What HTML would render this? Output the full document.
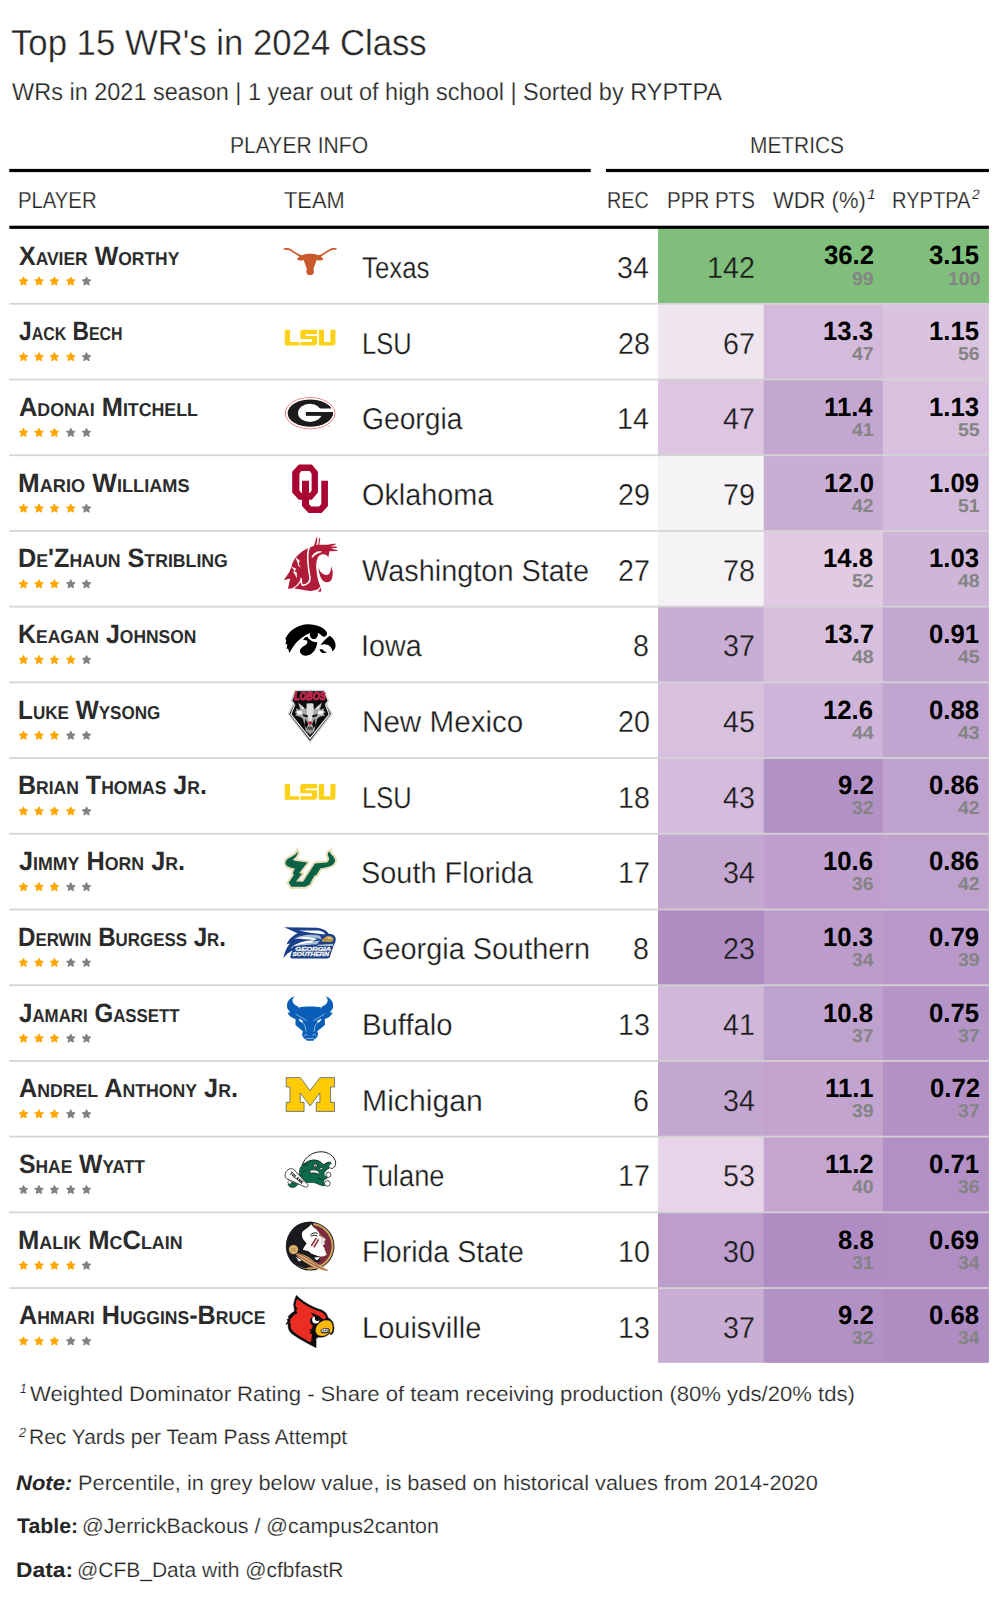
<!DOCTYPE html>
<html lang="en"><head><meta charset="utf-8"><title>Top 15 WR's in 2024 Class</title>
<style>html,body{margin:0;padding:0}
body{width:998px;height:1600px;position:relative;background:#fff;overflow:hidden;font-family:"Liberation Sans",sans-serif}
svg.bg{position:absolute;left:0;top:0}
.t{position:absolute;white-space:nowrap;line-height:1;font-family:"Liberation Sans",sans-serif;transform-origin:0 0;text-rendering:geometricPrecision}
.sc{font-size:70%}</style></head><body>
<svg class="bg" width="998" height="1600" viewBox="0 0 998 1600">
<rect x="658.0" y="229.00" width="106.0" height="75.11" fill="#7FBF7B"/>
<rect x="763.7" y="229.00" width="119.5" height="75.11" fill="#7FBF7B"/>
<rect x="882.9" y="229.00" width="106.0" height="75.11" fill="#7FBF7B"/>
<rect x="658.0" y="303.81" width="106.0" height="76.01" fill="#EFE5EF"/>
<rect x="763.7" y="303.81" width="119.5" height="76.01" fill="#D4BBDB"/>
<rect x="882.9" y="303.81" width="106.0" height="76.01" fill="#DAC3DF"/>
<rect x="658.0" y="379.52" width="106.0" height="76.01" fill="#DCC6E1"/>
<rect x="763.7" y="379.52" width="119.5" height="76.01" fill="#C4A7D1"/>
<rect x="882.9" y="379.52" width="106.0" height="76.01" fill="#D8C0DE"/>
<rect x="658.0" y="455.23" width="106.0" height="76.01" fill="#F5F3F5"/>
<rect x="763.7" y="455.23" width="119.5" height="76.01" fill="#C9AED4"/>
<rect x="882.9" y="455.23" width="106.0" height="76.01" fill="#D4BCDC"/>
<rect x="658.0" y="530.94" width="106.0" height="76.01" fill="#F5F2F5"/>
<rect x="763.7" y="530.94" width="119.5" height="76.01" fill="#E0CBE3"/>
<rect x="882.9" y="530.94" width="106.0" height="76.01" fill="#CFB5D8"/>
<rect x="658.0" y="606.65" width="106.0" height="76.01" fill="#C9AED4"/>
<rect x="763.7" y="606.65" width="119.5" height="76.01" fill="#D7BFDD"/>
<rect x="882.9" y="606.65" width="106.0" height="76.01" fill="#C4A7D1"/>
<rect x="658.0" y="682.36" width="106.0" height="76.01" fill="#D8C1DE"/>
<rect x="763.7" y="682.36" width="119.5" height="76.01" fill="#CEB4D8"/>
<rect x="882.9" y="682.36" width="106.0" height="76.01" fill="#C1A4CF"/>
<rect x="658.0" y="758.07" width="106.0" height="76.01" fill="#D5BCDC"/>
<rect x="763.7" y="758.07" width="119.5" height="76.01" fill="#B291C5"/>
<rect x="882.9" y="758.07" width="106.0" height="76.01" fill="#BFA1CE"/>
<rect x="658.0" y="833.78" width="106.0" height="76.01" fill="#C4A7D1"/>
<rect x="763.7" y="833.78" width="119.5" height="76.01" fill="#BE9FCD"/>
<rect x="882.9" y="833.78" width="106.0" height="76.01" fill="#BFA1CE"/>
<rect x="658.0" y="909.49" width="106.0" height="76.01" fill="#AF8DC3"/>
<rect x="763.7" y="909.49" width="119.5" height="76.01" fill="#BB9CCB"/>
<rect x="882.9" y="909.49" width="106.0" height="76.01" fill="#B999CA"/>
<rect x="658.0" y="985.20" width="106.0" height="76.01" fill="#D1B7D9"/>
<rect x="763.7" y="985.20" width="119.5" height="76.01" fill="#BFA1CE"/>
<rect x="882.9" y="985.20" width="106.0" height="76.01" fill="#B595C7"/>
<rect x="658.0" y="1060.91" width="106.0" height="76.01" fill="#C4A7D1"/>
<rect x="763.7" y="1060.91" width="119.5" height="76.01" fill="#C2A4CF"/>
<rect x="882.9" y="1060.91" width="106.0" height="76.01" fill="#B391C5"/>
<rect x="658.0" y="1136.62" width="106.0" height="76.01" fill="#E7D4E8"/>
<rect x="763.7" y="1136.62" width="119.5" height="76.01" fill="#C3A5D0"/>
<rect x="882.9" y="1136.62" width="106.0" height="76.01" fill="#B290C5"/>
<rect x="658.0" y="1212.33" width="106.0" height="76.01" fill="#BC9DCC"/>
<rect x="763.7" y="1212.33" width="119.5" height="76.01" fill="#AF8DC3"/>
<rect x="882.9" y="1212.33" width="106.0" height="76.01" fill="#B08EC4"/>
<rect x="658.0" y="1288.04" width="106.0" height="74.81" fill="#C9AED4"/>
<rect x="763.7" y="1288.04" width="119.5" height="74.81" fill="#B291C5"/>
<rect x="882.9" y="1288.04" width="106.0" height="74.81" fill="#AF8DC3"/>
<rect x="9.3" y="302.91" width="979.6" height="1.8" fill="#d3d3d3" fill-opacity="0.95"/>
<rect x="9.3" y="378.62" width="979.6" height="1.8" fill="#d3d3d3" fill-opacity="0.95"/>
<rect x="9.3" y="454.33" width="979.6" height="1.8" fill="#d3d3d3" fill-opacity="0.95"/>
<rect x="9.3" y="530.04" width="979.6" height="1.8" fill="#d3d3d3" fill-opacity="0.95"/>
<rect x="9.3" y="605.75" width="979.6" height="1.8" fill="#d3d3d3" fill-opacity="0.95"/>
<rect x="9.3" y="681.46" width="979.6" height="1.8" fill="#d3d3d3" fill-opacity="0.95"/>
<rect x="9.3" y="757.17" width="979.6" height="1.8" fill="#d3d3d3" fill-opacity="0.95"/>
<rect x="9.3" y="832.88" width="979.6" height="1.8" fill="#d3d3d3" fill-opacity="0.95"/>
<rect x="9.3" y="908.59" width="979.6" height="1.8" fill="#d3d3d3" fill-opacity="0.95"/>
<rect x="9.3" y="984.30" width="979.6" height="1.8" fill="#d3d3d3" fill-opacity="0.95"/>
<rect x="9.3" y="1060.01" width="979.6" height="1.8" fill="#d3d3d3" fill-opacity="0.95"/>
<rect x="9.3" y="1135.72" width="979.6" height="1.8" fill="#d3d3d3" fill-opacity="0.95"/>
<rect x="9.3" y="1211.43" width="979.6" height="1.8" fill="#d3d3d3" fill-opacity="0.95"/>
<rect x="9.3" y="1287.14" width="979.6" height="1.8" fill="#d3d3d3" fill-opacity="0.95"/>
<rect x="9.3" y="168.9" width="581.4" height="3.2" fill="#000"/>
<rect x="606" y="168.9" width="382.9" height="3.2" fill="#000"/>
<rect x="9.3" y="225.7" width="979.6" height="3.2" fill="#000"/>
<polygon points="23.50,276.85 24.82,279.58 27.83,279.99 25.64,282.10 26.17,285.08 23.50,283.65 20.83,285.08 21.36,282.10 19.17,279.99 22.18,279.58" fill="#ffa500" stroke="#ffa500" stroke-width="0.9" stroke-linejoin="round"/>
<polygon points="39.00,276.85 40.32,279.58 43.33,279.99 41.14,282.10 41.67,285.08 39.00,283.65 36.33,285.08 36.86,282.10 34.67,279.99 37.68,279.58" fill="#ffa500" stroke="#ffa500" stroke-width="0.9" stroke-linejoin="round"/>
<polygon points="54.40,276.85 55.72,279.58 58.73,279.99 56.54,282.10 57.07,285.08 54.40,283.65 51.73,285.08 52.26,282.10 50.07,279.99 53.08,279.58" fill="#ffa500" stroke="#ffa500" stroke-width="0.9" stroke-linejoin="round"/>
<polygon points="70.80,276.85 72.12,279.58 75.13,279.99 72.94,282.10 73.47,285.08 70.80,283.65 68.13,285.08 68.66,282.10 66.47,279.99 69.48,279.58" fill="#ffa500" stroke="#ffa500" stroke-width="0.9" stroke-linejoin="round"/>
<polygon points="86.50,276.85 87.82,279.58 90.83,279.99 88.64,282.10 89.17,285.08 86.50,283.65 83.83,285.08 84.36,282.10 82.17,279.99 85.18,279.58" fill="#808080" stroke="#808080" stroke-width="0.9" stroke-linejoin="round"/>
<polygon points="23.50,352.56 24.82,355.29 27.83,355.70 25.64,357.81 26.17,360.79 23.50,359.36 20.83,360.79 21.36,357.81 19.17,355.70 22.18,355.29" fill="#ffa500" stroke="#ffa500" stroke-width="0.9" stroke-linejoin="round"/>
<polygon points="39.00,352.56 40.32,355.29 43.33,355.70 41.14,357.81 41.67,360.79 39.00,359.36 36.33,360.79 36.86,357.81 34.67,355.70 37.68,355.29" fill="#ffa500" stroke="#ffa500" stroke-width="0.9" stroke-linejoin="round"/>
<polygon points="54.40,352.56 55.72,355.29 58.73,355.70 56.54,357.81 57.07,360.79 54.40,359.36 51.73,360.79 52.26,357.81 50.07,355.70 53.08,355.29" fill="#ffa500" stroke="#ffa500" stroke-width="0.9" stroke-linejoin="round"/>
<polygon points="70.80,352.56 72.12,355.29 75.13,355.70 72.94,357.81 73.47,360.79 70.80,359.36 68.13,360.79 68.66,357.81 66.47,355.70 69.48,355.29" fill="#ffa500" stroke="#ffa500" stroke-width="0.9" stroke-linejoin="round"/>
<polygon points="86.50,352.56 87.82,355.29 90.83,355.70 88.64,357.81 89.17,360.79 86.50,359.36 83.83,360.79 84.36,357.81 82.17,355.70 85.18,355.29" fill="#808080" stroke="#808080" stroke-width="0.9" stroke-linejoin="round"/>
<polygon points="23.50,428.27 24.82,431.00 27.83,431.41 25.64,433.52 26.17,436.50 23.50,435.07 20.83,436.50 21.36,433.52 19.17,431.41 22.18,431.00" fill="#ffa500" stroke="#ffa500" stroke-width="0.9" stroke-linejoin="round"/>
<polygon points="39.00,428.27 40.32,431.00 43.33,431.41 41.14,433.52 41.67,436.50 39.00,435.07 36.33,436.50 36.86,433.52 34.67,431.41 37.68,431.00" fill="#ffa500" stroke="#ffa500" stroke-width="0.9" stroke-linejoin="round"/>
<polygon points="54.40,428.27 55.72,431.00 58.73,431.41 56.54,433.52 57.07,436.50 54.40,435.07 51.73,436.50 52.26,433.52 50.07,431.41 53.08,431.00" fill="#ffa500" stroke="#ffa500" stroke-width="0.9" stroke-linejoin="round"/>
<polygon points="70.80,428.27 72.12,431.00 75.13,431.41 72.94,433.52 73.47,436.50 70.80,435.07 68.13,436.50 68.66,433.52 66.47,431.41 69.48,431.00" fill="#808080" stroke="#808080" stroke-width="0.9" stroke-linejoin="round"/>
<polygon points="86.50,428.27 87.82,431.00 90.83,431.41 88.64,433.52 89.17,436.50 86.50,435.07 83.83,436.50 84.36,433.52 82.17,431.41 85.18,431.00" fill="#808080" stroke="#808080" stroke-width="0.9" stroke-linejoin="round"/>
<polygon points="23.50,503.98 24.82,506.71 27.83,507.12 25.64,509.23 26.17,512.21 23.50,510.78 20.83,512.21 21.36,509.23 19.17,507.12 22.18,506.71" fill="#ffa500" stroke="#ffa500" stroke-width="0.9" stroke-linejoin="round"/>
<polygon points="39.00,503.98 40.32,506.71 43.33,507.12 41.14,509.23 41.67,512.21 39.00,510.78 36.33,512.21 36.86,509.23 34.67,507.12 37.68,506.71" fill="#ffa500" stroke="#ffa500" stroke-width="0.9" stroke-linejoin="round"/>
<polygon points="54.40,503.98 55.72,506.71 58.73,507.12 56.54,509.23 57.07,512.21 54.40,510.78 51.73,512.21 52.26,509.23 50.07,507.12 53.08,506.71" fill="#ffa500" stroke="#ffa500" stroke-width="0.9" stroke-linejoin="round"/>
<polygon points="70.80,503.98 72.12,506.71 75.13,507.12 72.94,509.23 73.47,512.21 70.80,510.78 68.13,512.21 68.66,509.23 66.47,507.12 69.48,506.71" fill="#ffa500" stroke="#ffa500" stroke-width="0.9" stroke-linejoin="round"/>
<polygon points="86.50,503.98 87.82,506.71 90.83,507.12 88.64,509.23 89.17,512.21 86.50,510.78 83.83,512.21 84.36,509.23 82.17,507.12 85.18,506.71" fill="#808080" stroke="#808080" stroke-width="0.9" stroke-linejoin="round"/>
<polygon points="23.50,579.69 24.82,582.42 27.83,582.83 25.64,584.94 26.17,587.92 23.50,586.49 20.83,587.92 21.36,584.94 19.17,582.83 22.18,582.42" fill="#ffa500" stroke="#ffa500" stroke-width="0.9" stroke-linejoin="round"/>
<polygon points="39.00,579.69 40.32,582.42 43.33,582.83 41.14,584.94 41.67,587.92 39.00,586.49 36.33,587.92 36.86,584.94 34.67,582.83 37.68,582.42" fill="#ffa500" stroke="#ffa500" stroke-width="0.9" stroke-linejoin="round"/>
<polygon points="54.40,579.69 55.72,582.42 58.73,582.83 56.54,584.94 57.07,587.92 54.40,586.49 51.73,587.92 52.26,584.94 50.07,582.83 53.08,582.42" fill="#ffa500" stroke="#ffa500" stroke-width="0.9" stroke-linejoin="round"/>
<polygon points="70.80,579.69 72.12,582.42 75.13,582.83 72.94,584.94 73.47,587.92 70.80,586.49 68.13,587.92 68.66,584.94 66.47,582.83 69.48,582.42" fill="#808080" stroke="#808080" stroke-width="0.9" stroke-linejoin="round"/>
<polygon points="86.50,579.69 87.82,582.42 90.83,582.83 88.64,584.94 89.17,587.92 86.50,586.49 83.83,587.92 84.36,584.94 82.17,582.83 85.18,582.42" fill="#808080" stroke="#808080" stroke-width="0.9" stroke-linejoin="round"/>
<polygon points="23.50,655.40 24.82,658.13 27.83,658.54 25.64,660.65 26.17,663.63 23.50,662.20 20.83,663.63 21.36,660.65 19.17,658.54 22.18,658.13" fill="#ffa500" stroke="#ffa500" stroke-width="0.9" stroke-linejoin="round"/>
<polygon points="39.00,655.40 40.32,658.13 43.33,658.54 41.14,660.65 41.67,663.63 39.00,662.20 36.33,663.63 36.86,660.65 34.67,658.54 37.68,658.13" fill="#ffa500" stroke="#ffa500" stroke-width="0.9" stroke-linejoin="round"/>
<polygon points="54.40,655.40 55.72,658.13 58.73,658.54 56.54,660.65 57.07,663.63 54.40,662.20 51.73,663.63 52.26,660.65 50.07,658.54 53.08,658.13" fill="#ffa500" stroke="#ffa500" stroke-width="0.9" stroke-linejoin="round"/>
<polygon points="70.80,655.40 72.12,658.13 75.13,658.54 72.94,660.65 73.47,663.63 70.80,662.20 68.13,663.63 68.66,660.65 66.47,658.54 69.48,658.13" fill="#ffa500" stroke="#ffa500" stroke-width="0.9" stroke-linejoin="round"/>
<polygon points="86.50,655.40 87.82,658.13 90.83,658.54 88.64,660.65 89.17,663.63 86.50,662.20 83.83,663.63 84.36,660.65 82.17,658.54 85.18,658.13" fill="#808080" stroke="#808080" stroke-width="0.9" stroke-linejoin="round"/>
<polygon points="23.50,731.11 24.82,733.84 27.83,734.25 25.64,736.36 26.17,739.34 23.50,737.91 20.83,739.34 21.36,736.36 19.17,734.25 22.18,733.84" fill="#ffa500" stroke="#ffa500" stroke-width="0.9" stroke-linejoin="round"/>
<polygon points="39.00,731.11 40.32,733.84 43.33,734.25 41.14,736.36 41.67,739.34 39.00,737.91 36.33,739.34 36.86,736.36 34.67,734.25 37.68,733.84" fill="#ffa500" stroke="#ffa500" stroke-width="0.9" stroke-linejoin="round"/>
<polygon points="54.40,731.11 55.72,733.84 58.73,734.25 56.54,736.36 57.07,739.34 54.40,737.91 51.73,739.34 52.26,736.36 50.07,734.25 53.08,733.84" fill="#ffa500" stroke="#ffa500" stroke-width="0.9" stroke-linejoin="round"/>
<polygon points="70.80,731.11 72.12,733.84 75.13,734.25 72.94,736.36 73.47,739.34 70.80,737.91 68.13,739.34 68.66,736.36 66.47,734.25 69.48,733.84" fill="#808080" stroke="#808080" stroke-width="0.9" stroke-linejoin="round"/>
<polygon points="86.50,731.11 87.82,733.84 90.83,734.25 88.64,736.36 89.17,739.34 86.50,737.91 83.83,739.34 84.36,736.36 82.17,734.25 85.18,733.84" fill="#808080" stroke="#808080" stroke-width="0.9" stroke-linejoin="round"/>
<polygon points="23.50,806.82 24.82,809.55 27.83,809.96 25.64,812.07 26.17,815.05 23.50,813.62 20.83,815.05 21.36,812.07 19.17,809.96 22.18,809.55" fill="#ffa500" stroke="#ffa500" stroke-width="0.9" stroke-linejoin="round"/>
<polygon points="39.00,806.82 40.32,809.55 43.33,809.96 41.14,812.07 41.67,815.05 39.00,813.62 36.33,815.05 36.86,812.07 34.67,809.96 37.68,809.55" fill="#ffa500" stroke="#ffa500" stroke-width="0.9" stroke-linejoin="round"/>
<polygon points="54.40,806.82 55.72,809.55 58.73,809.96 56.54,812.07 57.07,815.05 54.40,813.62 51.73,815.05 52.26,812.07 50.07,809.96 53.08,809.55" fill="#ffa500" stroke="#ffa500" stroke-width="0.9" stroke-linejoin="round"/>
<polygon points="70.80,806.82 72.12,809.55 75.13,809.96 72.94,812.07 73.47,815.05 70.80,813.62 68.13,815.05 68.66,812.07 66.47,809.96 69.48,809.55" fill="#ffa500" stroke="#ffa500" stroke-width="0.9" stroke-linejoin="round"/>
<polygon points="86.50,806.82 87.82,809.55 90.83,809.96 88.64,812.07 89.17,815.05 86.50,813.62 83.83,815.05 84.36,812.07 82.17,809.96 85.18,809.55" fill="#808080" stroke="#808080" stroke-width="0.9" stroke-linejoin="round"/>
<polygon points="23.50,882.53 24.82,885.26 27.83,885.67 25.64,887.78 26.17,890.76 23.50,889.33 20.83,890.76 21.36,887.78 19.17,885.67 22.18,885.26" fill="#ffa500" stroke="#ffa500" stroke-width="0.9" stroke-linejoin="round"/>
<polygon points="39.00,882.53 40.32,885.26 43.33,885.67 41.14,887.78 41.67,890.76 39.00,889.33 36.33,890.76 36.86,887.78 34.67,885.67 37.68,885.26" fill="#ffa500" stroke="#ffa500" stroke-width="0.9" stroke-linejoin="round"/>
<polygon points="54.40,882.53 55.72,885.26 58.73,885.67 56.54,887.78 57.07,890.76 54.40,889.33 51.73,890.76 52.26,887.78 50.07,885.67 53.08,885.26" fill="#ffa500" stroke="#ffa500" stroke-width="0.9" stroke-linejoin="round"/>
<polygon points="70.80,882.53 72.12,885.26 75.13,885.67 72.94,887.78 73.47,890.76 70.80,889.33 68.13,890.76 68.66,887.78 66.47,885.67 69.48,885.26" fill="#808080" stroke="#808080" stroke-width="0.9" stroke-linejoin="round"/>
<polygon points="86.50,882.53 87.82,885.26 90.83,885.67 88.64,887.78 89.17,890.76 86.50,889.33 83.83,890.76 84.36,887.78 82.17,885.67 85.18,885.26" fill="#808080" stroke="#808080" stroke-width="0.9" stroke-linejoin="round"/>
<polygon points="23.50,958.24 24.82,960.97 27.83,961.38 25.64,963.49 26.17,966.47 23.50,965.04 20.83,966.47 21.36,963.49 19.17,961.38 22.18,960.97" fill="#ffa500" stroke="#ffa500" stroke-width="0.9" stroke-linejoin="round"/>
<polygon points="39.00,958.24 40.32,960.97 43.33,961.38 41.14,963.49 41.67,966.47 39.00,965.04 36.33,966.47 36.86,963.49 34.67,961.38 37.68,960.97" fill="#ffa500" stroke="#ffa500" stroke-width="0.9" stroke-linejoin="round"/>
<polygon points="54.40,958.24 55.72,960.97 58.73,961.38 56.54,963.49 57.07,966.47 54.40,965.04 51.73,966.47 52.26,963.49 50.07,961.38 53.08,960.97" fill="#ffa500" stroke="#ffa500" stroke-width="0.9" stroke-linejoin="round"/>
<polygon points="70.80,958.24 72.12,960.97 75.13,961.38 72.94,963.49 73.47,966.47 70.80,965.04 68.13,966.47 68.66,963.49 66.47,961.38 69.48,960.97" fill="#808080" stroke="#808080" stroke-width="0.9" stroke-linejoin="round"/>
<polygon points="86.50,958.24 87.82,960.97 90.83,961.38 88.64,963.49 89.17,966.47 86.50,965.04 83.83,966.47 84.36,963.49 82.17,961.38 85.18,960.97" fill="#808080" stroke="#808080" stroke-width="0.9" stroke-linejoin="round"/>
<polygon points="23.50,1033.95 24.82,1036.68 27.83,1037.09 25.64,1039.20 26.17,1042.18 23.50,1040.75 20.83,1042.18 21.36,1039.20 19.17,1037.09 22.18,1036.68" fill="#ffa500" stroke="#ffa500" stroke-width="0.9" stroke-linejoin="round"/>
<polygon points="39.00,1033.95 40.32,1036.68 43.33,1037.09 41.14,1039.20 41.67,1042.18 39.00,1040.75 36.33,1042.18 36.86,1039.20 34.67,1037.09 37.68,1036.68" fill="#ffa500" stroke="#ffa500" stroke-width="0.9" stroke-linejoin="round"/>
<polygon points="54.40,1033.95 55.72,1036.68 58.73,1037.09 56.54,1039.20 57.07,1042.18 54.40,1040.75 51.73,1042.18 52.26,1039.20 50.07,1037.09 53.08,1036.68" fill="#ffa500" stroke="#ffa500" stroke-width="0.9" stroke-linejoin="round"/>
<polygon points="70.80,1033.95 72.12,1036.68 75.13,1037.09 72.94,1039.20 73.47,1042.18 70.80,1040.75 68.13,1042.18 68.66,1039.20 66.47,1037.09 69.48,1036.68" fill="#808080" stroke="#808080" stroke-width="0.9" stroke-linejoin="round"/>
<polygon points="86.50,1033.95 87.82,1036.68 90.83,1037.09 88.64,1039.20 89.17,1042.18 86.50,1040.75 83.83,1042.18 84.36,1039.20 82.17,1037.09 85.18,1036.68" fill="#808080" stroke="#808080" stroke-width="0.9" stroke-linejoin="round"/>
<polygon points="23.50,1109.66 24.82,1112.39 27.83,1112.80 25.64,1114.91 26.17,1117.89 23.50,1116.46 20.83,1117.89 21.36,1114.91 19.17,1112.80 22.18,1112.39" fill="#ffa500" stroke="#ffa500" stroke-width="0.9" stroke-linejoin="round"/>
<polygon points="39.00,1109.66 40.32,1112.39 43.33,1112.80 41.14,1114.91 41.67,1117.89 39.00,1116.46 36.33,1117.89 36.86,1114.91 34.67,1112.80 37.68,1112.39" fill="#ffa500" stroke="#ffa500" stroke-width="0.9" stroke-linejoin="round"/>
<polygon points="54.40,1109.66 55.72,1112.39 58.73,1112.80 56.54,1114.91 57.07,1117.89 54.40,1116.46 51.73,1117.89 52.26,1114.91 50.07,1112.80 53.08,1112.39" fill="#ffa500" stroke="#ffa500" stroke-width="0.9" stroke-linejoin="round"/>
<polygon points="70.80,1109.66 72.12,1112.39 75.13,1112.80 72.94,1114.91 73.47,1117.89 70.80,1116.46 68.13,1117.89 68.66,1114.91 66.47,1112.80 69.48,1112.39" fill="#808080" stroke="#808080" stroke-width="0.9" stroke-linejoin="round"/>
<polygon points="86.50,1109.66 87.82,1112.39 90.83,1112.80 88.64,1114.91 89.17,1117.89 86.50,1116.46 83.83,1117.89 84.36,1114.91 82.17,1112.80 85.18,1112.39" fill="#808080" stroke="#808080" stroke-width="0.9" stroke-linejoin="round"/>
<polygon points="23.50,1185.37 24.82,1188.10 27.83,1188.51 25.64,1190.62 26.17,1193.60 23.50,1192.17 20.83,1193.60 21.36,1190.62 19.17,1188.51 22.18,1188.10" fill="#808080" stroke="#808080" stroke-width="0.9" stroke-linejoin="round"/>
<polygon points="39.00,1185.37 40.32,1188.10 43.33,1188.51 41.14,1190.62 41.67,1193.60 39.00,1192.17 36.33,1193.60 36.86,1190.62 34.67,1188.51 37.68,1188.10" fill="#808080" stroke="#808080" stroke-width="0.9" stroke-linejoin="round"/>
<polygon points="54.40,1185.37 55.72,1188.10 58.73,1188.51 56.54,1190.62 57.07,1193.60 54.40,1192.17 51.73,1193.60 52.26,1190.62 50.07,1188.51 53.08,1188.10" fill="#808080" stroke="#808080" stroke-width="0.9" stroke-linejoin="round"/>
<polygon points="70.80,1185.37 72.12,1188.10 75.13,1188.51 72.94,1190.62 73.47,1193.60 70.80,1192.17 68.13,1193.60 68.66,1190.62 66.47,1188.51 69.48,1188.10" fill="#808080" stroke="#808080" stroke-width="0.9" stroke-linejoin="round"/>
<polygon points="86.50,1185.37 87.82,1188.10 90.83,1188.51 88.64,1190.62 89.17,1193.60 86.50,1192.17 83.83,1193.60 84.36,1190.62 82.17,1188.51 85.18,1188.10" fill="#808080" stroke="#808080" stroke-width="0.9" stroke-linejoin="round"/>
<polygon points="23.50,1261.08 24.82,1263.81 27.83,1264.22 25.64,1266.33 26.17,1269.31 23.50,1267.88 20.83,1269.31 21.36,1266.33 19.17,1264.22 22.18,1263.81" fill="#ffa500" stroke="#ffa500" stroke-width="0.9" stroke-linejoin="round"/>
<polygon points="39.00,1261.08 40.32,1263.81 43.33,1264.22 41.14,1266.33 41.67,1269.31 39.00,1267.88 36.33,1269.31 36.86,1266.33 34.67,1264.22 37.68,1263.81" fill="#ffa500" stroke="#ffa500" stroke-width="0.9" stroke-linejoin="round"/>
<polygon points="54.40,1261.08 55.72,1263.81 58.73,1264.22 56.54,1266.33 57.07,1269.31 54.40,1267.88 51.73,1269.31 52.26,1266.33 50.07,1264.22 53.08,1263.81" fill="#ffa500" stroke="#ffa500" stroke-width="0.9" stroke-linejoin="round"/>
<polygon points="70.80,1261.08 72.12,1263.81 75.13,1264.22 72.94,1266.33 73.47,1269.31 70.80,1267.88 68.13,1269.31 68.66,1266.33 66.47,1264.22 69.48,1263.81" fill="#ffa500" stroke="#ffa500" stroke-width="0.9" stroke-linejoin="round"/>
<polygon points="86.50,1261.08 87.82,1263.81 90.83,1264.22 88.64,1266.33 89.17,1269.31 86.50,1267.88 83.83,1269.31 84.36,1266.33 82.17,1264.22 85.18,1263.81" fill="#808080" stroke="#808080" stroke-width="0.9" stroke-linejoin="round"/>
<polygon points="23.50,1336.79 24.82,1339.52 27.83,1339.93 25.64,1342.04 26.17,1345.02 23.50,1343.59 20.83,1345.02 21.36,1342.04 19.17,1339.93 22.18,1339.52" fill="#ffa500" stroke="#ffa500" stroke-width="0.9" stroke-linejoin="round"/>
<polygon points="39.00,1336.79 40.32,1339.52 43.33,1339.93 41.14,1342.04 41.67,1345.02 39.00,1343.59 36.33,1345.02 36.86,1342.04 34.67,1339.93 37.68,1339.52" fill="#ffa500" stroke="#ffa500" stroke-width="0.9" stroke-linejoin="round"/>
<polygon points="54.40,1336.79 55.72,1339.52 58.73,1339.93 56.54,1342.04 57.07,1345.02 54.40,1343.59 51.73,1345.02 52.26,1342.04 50.07,1339.93 53.08,1339.52" fill="#ffa500" stroke="#ffa500" stroke-width="0.9" stroke-linejoin="round"/>
<polygon points="70.80,1336.79 72.12,1339.52 75.13,1339.93 72.94,1342.04 73.47,1345.02 70.80,1343.59 68.13,1345.02 68.66,1342.04 66.47,1339.93 69.48,1339.52" fill="#808080" stroke="#808080" stroke-width="0.9" stroke-linejoin="round"/>
<polygon points="86.50,1336.79 87.82,1339.52 90.83,1339.93 88.64,1342.04 89.17,1345.02 86.50,1343.59 83.83,1345.02 84.36,1342.04 82.17,1339.93 85.18,1339.52" fill="#808080" stroke="#808080" stroke-width="0.9" stroke-linejoin="round"/>
<g transform="translate(275.00,235.00) scale(0.070140)"><path fill="#c9592a" d="M118,205 C128,182 190,180 232,205 C282,235 330,272 378,288 C400,284 420,279 436,272 C470,264 530,264 566,272 C582,279 602,284 626,288 C672,270 722,235 772,205 C812,180 872,182 886,200 C872,216 822,206 792,222 C742,252 702,280 654,310 C674,320 687,335 684,348 C670,366 630,370 592,356 C582,400 562,440 548,488 C562,520 556,560 522,572 L482,572 C446,560 440,520 454,488 C440,440 420,400 410,356 C372,370 332,366 318,348 C316,335 330,320 350,310 C300,280 260,252 210,222 C180,206 130,216 118,205 Z"/><circle cx="713" cy="336" r="9" fill="#e7b9a5"/></g>
<g transform="translate(275.00,310.00) scale(0.070140)"><g fill="#fcd116"><path d="M140,280 H215 V455 H345 V505 H140 Z"/><path d="M400,280 H600 V345 H435 V372 H600 V455 Q600,505 552,505 H360 V455 H525 V415 H360 V320 Q360,280 400,280 Z"/><path d="M625,280 H700 V455 H790 V280 H862 V465 Q862,505 822,505 H625 Z"/></g></g>
<g transform="translate(275.00,385.00) scale(0.070140)"><ellipse cx="500" cy="402" rx="353" ry="222" fill="#fff" stroke="#e8242a" stroke-width="9"/><ellipse cx="503" cy="402" rx="322" ry="195" fill="#1c1a1b"/><ellipse cx="498" cy="398" rx="170" ry="130" fill="#fff"/><rect x="600" y="333" width="235" height="52" fill="#fff"/><path d="M440,385 H826 V440 H440 Z" fill="#1c1a1b"/><path d="M640,333 L800,333 L770,290 L600,290 Z" fill="#1c1a1b"/><ellipse cx="500" cy="402" rx="338" ry="209" fill="none" stroke="#fff" stroke-width="12"/><circle cx="768" cy="590" r="8" fill="#aaa"/></g>
<g transform="translate(275.00,458.00) scale(0.070140)"><g fill="#a90533"><path fill-rule="evenodd" d="M340,92 H525 L612,195 V492 L525,595 H340 L245,492 V195 Z M375,185 L348,225 V465 L375,500 H495 L522,465 V225 L495,185 Z"/><path d="M385,325 H485 V655 L515,690 H630 L660,655 V325 H755 V685 L665,785 H480 L385,685 Z"/></g><circle cx="342" cy="625" r="9" fill="#d48a9d"/></g>
<g transform="translate(275.00,536.00) scale(0.070140)"><g fill="#b01c38"><path d="M480,170 L556,140 L590,22 L606,22 L590,130 L614,125 L630,30 L646,33 L631,125 L745,125 L858,108 L866,121 L792,150 L880,150 L882,166 L792,181 L888,200 L888,213 L776,216 C771,250 766,280 760,302 C742,262 700,250 650,266 C600,290 580,380 590,470 C598,560 620,660 640,700 L654,722 L660,792 L600,796 L640,736 C600,780 520,792 450,776 L262,746 L185,752 L216,606 L125,630 L200,520 L236,440 L246,390 L292,310 C340,250 410,200 480,170 Z"/><path d="M620,450 C640,520 700,572 760,550 C790,530 800,480 800,430 C832,500 832,590 790,642 C740,682 680,652 655,600 C635,550 620,500 620,450 Z"/></g><g fill="none" stroke="#fff" stroke-linecap="round" stroke-linejoin="round"><path d="M486,172 C440,270 476,440 498,590 C506,660 470,692 395,704 C374,690 374,650 372,606" stroke-width="22"/><path d="M252,748 C300,724 344,684 370,626" stroke-width="17"/><path d="M606,796 L652,722" stroke-width="15"/></g><g fill="#fff"><path d="M290,300 L352,352 L338,398 L372,452 L330,420 L322,380 Z"/><path d="M232,432 L306,470 L276,500 L312,524 L310,606 L290,560 L262,520 L272,490 Z"/><path d="M526,296 C560,232 620,214 662,226 C620,240 570,258 534,306 Z" stroke="#fff" stroke-width="10" stroke-linejoin="round"/></g></g>
<g transform="translate(275.00,612.00) scale(0.070140)"><g fill="#000"><path d="M205,586 L186,520 L165,526 L176,456 L150,462 L161,396 L145,386 C200,260 330,180 470,175 C600,175 720,230 742,300 C746,340 710,362 685,350 C650,330 640,300 610,298 C616,340 600,382 555,386 C510,386 490,340 500,300 C420,330 330,400 270,480 C240,520 220,556 205,586 Z"/><path d="M430,360 L462,354 C490,400 530,432 602,430 C602,480 570,560 510,602 C460,632 390,632 360,580 C345,530 380,500 420,480 C460,460 472,430 455,405 L400,396 Z"/><path d="M780,340 C830,370 872,430 862,500 C852,540 830,556 815,556 C810,500 770,460 700,460 L648,472 C690,420 740,370 780,340 Z"/><path d="M634,528 L682,536 C690,560 720,572 744,572 C710,592 670,586 650,566 Z"/></g><circle cx="528" cy="622" r="8" fill="#bbb"/></g>
<g transform="translate(275.00,686.00) scale(0.070140)"><path d="M278,54 H706 L774,214 L746,258 L824,400 L500,812 L180,400 L254,258 L222,214 Z" fill="#d2d2d2"/><path d="M296,74 H690 L748,212 L716,250 L796,400 L500,782 L204,400 L282,250 L250,212 Z" fill="#0d0d0d"/><path d="M286,262 L226,404 L500,748 L774,404 L716,262" fill="none" stroke="#f2f2f2" stroke-width="17" stroke-linejoin="miter"/><path d="M300,250 L250,400 L500,712 L750,400 L700,250 Z" fill="#0d0d0d"/><g fill="#a6a8aa"><path d="M330,236 L440,330 L470,250 L530,250 L560,330 L670,236 L640,340 L705,322 L690,356 L725,372 L690,392 L715,420 L640,440 L600,470 L580,560 L560,640 L500,690 L440,640 L420,560 L400,470 L360,440 L285,420 L310,392 L275,372 L310,356 L295,322 L360,340 Z"/></g><path d="M450,250 L550,250 L545,400 L522,500 L478,500 L455,400 Z" fill="#dfe1e2"/><g fill="#f4f4f4"><path d="M345,250 L420,320 L390,330 Z"/><path d="M655,250 L580,320 L610,330 Z"/><path d="M300,360 L380,350 L390,400 L330,410 Z"/><path d="M700,360 L620,350 L610,400 L670,410 Z"/></g><g fill="#0d0d0d"><path d="M395,398 L472,420 L462,448 L405,430 Z"/><path d="M605,398 L528,420 L538,448 L595,430 Z"/><path d="M436,466 L418,560 L450,604 L472,540 Z"/><path d="M564,466 L582,560 L550,604 L528,540 Z"/></g><ellipse cx="500" cy="612" rx="40" ry="34" fill="#4a4a4a"/><ellipse cx="500" cy="645" rx="46" ry="26" fill="#9a9a9a"/><path d="M470,510 H530 L516,548 H484 Z" fill="#c8102e"/><text opacity="0.99" x="272" y="206" font-family="Liberation Sans, sans-serif" font-weight="700" font-style="italic" font-size="156" textLength="446" lengthAdjust="spacingAndGlyphs" fill="#cc2a52" stroke="#cc2a52" stroke-width="13" stroke-linejoin="round">LOBOS</text></g>
<g transform="translate(275.00,764.26) scale(0.070140)"><g fill="#fcd116"><path d="M140,280 H215 V455 H345 V505 H140 Z"/><path d="M400,280 H600 V345 H435 V372 H600 V455 Q600,505 552,505 H360 V455 H525 V415 H360 V320 Q360,280 400,280 Z"/><path d="M625,280 H700 V455 H790 V280 H862 V465 Q862,505 822,505 H625 Z"/></g></g>
<g transform="translate(275.00,840.00) scale(0.070140)"><path d="M296,185 L318,88 L352,190 Z M752,185 L830,88 L806,190 Z" fill="#e8ddb8"/><path id="usfp" d="M320,165 C330,200 310,240 260,275 C255,290 270,295 300,298 L462,320 L345,470 L385,480 L300,590 L400,595 L570,335 L740,320 C780,300 776,260 756,226 C746,200 760,176 776,165 C786,200 850,240 856,290 C856,350 790,382 700,396 L650,402 L590,500 L560,510 L512,600 L500,632 L430,666 L235,668 L195,610 L270,500 L255,470 L285,406 C230,400 165,386 150,336 C145,280 200,256 250,230 C290,210 310,190 320,165 Z" fill="#0b6246" stroke="#e8ddb8" stroke-width="58" stroke-linejoin="round" paint-order="stroke"/></g>
<g transform="translate(275.00,916.00) scale(0.070140)"><path d="M130,160 L600,168 C700,180 750,220 762,252 C830,250 876,290 866,345 C858,385 842,410 832,430 L782,586 C776,600 760,606 745,606 L240,606 C218,600 212,580 225,556 L250,490 C200,520 150,560 118,602 C135,520 165,450 215,390 L165,406 C190,340 250,282 322,246 Z" fill="#1c3f8a"/><path d="M335,205 L620,205 C680,215 710,235 716,262 L520,242 Z" fill="#fff"/><path d="M268,332 C350,270 500,250 645,282 L662,334 C560,300 400,300 268,332 Z" fill="#a9bfd3"/><path d="M300,322 C400,290 520,294 602,330 L560,346 C460,330 380,330 300,322 Z" fill="#fff"/><path d="M205,472 C300,400 420,370 560,360 L642,350 L602,402 L350,422 C300,432 250,450 205,472 Z" fill="#a9bfd3"/><path d="M215,462 C300,380 420,350 562,345 L520,382 C420,386 300,410 215,462 Z" fill="#fff"/><path d="M660,350 C680,320 720,300 742,285 C800,280 836,300 836,340 C836,366 800,376 760,372 L670,368 Z" fill="#b59549"/><path d="M740,300 C770,290 810,300 820,325 L760,330 Z" fill="#d9c48a"/><path d="M620,410 L832,394 L826,426 L590,426 Z" fill="#a9bfd3"/><path d="M262,432 H812 L770,596 H232 Z" fill="#1c3f8a"/><g opacity="0.99" font-family="Liberation Sans, sans-serif" font-weight="700" font-style="italic" fill="#f4f4ee" stroke="#f4f4ee" stroke-width="5"><text x="290" y="502" font-size="74" textLength="510" lengthAdjust="spacingAndGlyphs">GEORGIA</text><text x="250" y="576" font-size="74" textLength="520" lengthAdjust="spacingAndGlyphs">SOUTHERN</text></g></g>
<g transform="translate(275.00,990.00) scale(0.070140)"><path d="M285,90 C232,122 232,200 330,236 L345,250 C400,230 600,230 655,250 L670,236 C768,200 768,122 715,90 C800,110 850,190 820,270 L782,320 L822,320 C800,372 760,402 710,412 L712,500 L600,590 C622,620 616,682 560,702 L550,722 L450,722 L440,702 C384,682 378,620 400,590 L292,500 L292,412 C240,402 200,372 178,320 L218,320 L180,270 C150,190 200,110 285,90 Z" fill="#0a5eb7"/><g fill="#fff"><path d="M338,408 L402,442 L388,472 L350,442 Z"/><path d="M662,408 L598,442 L612,472 L650,442 Z"/></g><g fill="none" stroke="#cfe0f3" stroke-width="9" stroke-linecap="round"><path d="M300,346 L448,434"/><path d="M700,346 L552,434"/><path d="M398,470 C430,500 440,540 442,590"/><path d="M602,470 C570,500 560,540 558,590"/><path d="M420,655 C420,625 455,620 462,650"/><path d="M580,655 C580,625 545,620 538,650"/><path d="M448,690 H552"/><path d="M330,238 L345,260"/><path d="M670,238 L655,260"/></g></g>
<g transform="translate(275.00,1066.00) scale(0.070140)"><path d="M160,165 L362,165 L500,350 L640,165 L848,165 L848,300 L792,300 L792,518 L848,518 L848,648 L588,648 L588,518 L640,518 L640,385 L500,570 L360,385 L360,518 L415,518 L415,648 L160,648 L160,518 L212,518 L212,300 L160,300 Z" fill="#ffcb05" stroke="#2a4473" stroke-width="9" stroke-linejoin="miter"/></g>
<g transform="translate(275.00,1142.00) scale(0.070140)"><path d="M385,332 C430,200 560,130 680,140 C800,150 882,250 862,322 C850,372 800,392 780,362 C820,322 800,282 760,290 C720,300 700,330 680,320 C640,260 540,240 470,280 C430,300 400,320 385,332 Z" fill="#fff" stroke="#151515" stroke-width="14" stroke-linejoin="round"/><path d="M185,602 C200,652 260,662 300,632 C320,616 330,600 342,590 L250,572 Z" fill="#0b6a48" stroke="#14241d" stroke-width="9"/><path d="M470,280 C540,240 640,255 685,320 C700,330 730,310 760,290 C790,285 806,300 796,320 C770,330 760,350 770,380 C740,380 720,420 700,440 C690,470 720,500 750,510 C720,530 690,540 690,560 C710,590 722,610 700,626 C650,620 600,590 560,580 C500,570 440,590 400,560 C350,510 330,440 360,370 C380,330 420,300 470,280 Z" fill="#0b6a48" stroke="#0a2a1e" stroke-width="9"/><circle cx="762" cy="468" r="36" fill="#fff" stroke="#222" stroke-width="11"/><circle cx="746" cy="590" r="40" fill="#fff" stroke="#222" stroke-width="11"/><circle cx="806" cy="340" r="28" fill="#fff"/><path d="M150,440 C170,390 222,370 262,386 L470,610 C482,630 450,656 430,642 L160,520 C140,500 140,470 150,440 Z" fill="#fff" stroke="#3a3a3a" stroke-width="13" stroke-linejoin="round"/><g transform="translate(236,420) rotate(38) scale(0.9)" fill="#111"><path d="M0,0 h34 v12 h-10 v38 h-14 v-38 h-10 Z"/><path d="M42,2 h13 v34 h10 v-34 h13 v48 h-36 Z"/><path d="M86,4 h13 v36 h20 v12 h-33 Z"/><path d="M124,54 l14,-48 h14 l14,48 h-13 l-3,-12 h-10 l-3,12 Z"/><path d="M172,8 h12 l14,26 v-26 h12 v48 h-12 l-14,-26 v26 h-12 Z"/><path d="M218,10 h30 v11 h-17 v8 h14 v10 h-14 v8 h17 v11 h-30 Z"/></g><circle cx="210" cy="575" r="26" fill="#fff" stroke="#333" stroke-width="9"/><circle cx="576" cy="336" r="27" fill="#e9efe9" stroke="#111" stroke-width="12"/><circle cx="578" cy="340" r="10" fill="#111"/><ellipse cx="660" cy="378" rx="26" ry="14" fill="#dfe8e2" stroke="#111" stroke-width="9" transform="rotate(-20 660 378)"/><path d="M495,410 C520,392 580,392 610,410 C630,430 640,450 630,465 C600,440 540,440 500,445 Z" fill="#e9efe9" stroke="#111" stroke-width="10"/><path d="M380,440 C400,420 420,410 450,405 M400,330 C420,320 450,318 480,330 M610,510 C640,530 670,540 700,545 M385,470 L400,510" fill="none" stroke="#0a2a1e" stroke-width="9"/></g>
<g transform="translate(275.00,1216.00) scale(0.070140)"><circle cx="501" cy="430" r="347" fill="#1b1b1f"/><circle cx="501" cy="430" r="334" fill="#c9a55c"/><circle cx="501" cy="430" r="306" fill="#7b2b3d"/><path d="M545,86 C400,62 250,130 190,284 C140,404 160,564 250,668 C300,708 360,736 440,748 L650,640 L560,430 L545,160 Z" fill="#1b1b1f"/><path d="M517,118 L548,160 C600,190 625,230 632,250 L655,270 L724,335 L700,362 L708,400 L680,420 L700,450 L736,552 C700,582 640,582 603,572 L517,538 L474,504 L397,486 L406,452 L448,392 L406,340 C380,300 380,250 388,228 C420,190 480,170 517,118 Z" fill="#fff"/><path d="M406,340 C420,360 440,380 448,392 L406,452 L397,486 L474,504 L517,538 L603,572 L640,580 L600,640 L520,610 L440,560 L380,500 Z" fill="#1b1b1f"/><path d="M562,590 L640,582 L612,628 L578,622 Z" fill="#f2f2f2"/><path d="M585,318 L522,420 M620,340 L558,440" stroke="#8c2a3f" stroke-width="21" stroke-linecap="round"/><path d="M602,330 L540,430" stroke="#d2ae66" stroke-width="9" stroke-linecap="round"/><path d="M632,262 L690,300" stroke="#8c2a3f" stroke-width="26"/><path d="M634,262 L690,298" stroke="#d2ae66" stroke-width="10"/><path d="M505,270 C530,240 570,232 604,246 M520,288 C545,272 580,270 600,282" fill="none" stroke="#111" stroke-width="14" stroke-linecap="round"/><path d="M655,300 L724,335 L700,362 L708,400 L682,422 L650,400 Z" fill="#e4dfda"/><path d="M690,440 L736,552 L700,540 Z" fill="#e9e4df"/><circle cx="264" cy="478" r="66" fill="#d8b26c"/><path d="M226,468 h76 M232,492 h64" stroke="#b5793f" stroke-width="10"/><path d="M292,540 C380,520 480,580 560,650 C640,700 720,752 758,778 C680,784 580,752 480,692 C400,642 330,600 292,540 Z" fill="#d8b26c"/><path d="M300,548 C400,600 560,720 752,778 M330,540 C420,560 520,640 620,710" fill="none" stroke="#8c2a3f" stroke-width="11"/><path d="M296,576 L340,650 L380,636 Z" fill="#eee"/></g>
<g transform="translate(275.00,1290.00) scale(0.070140)"><path d="M305,75 C380,150 500,230 620,270 C700,290 742,330 756,395 C812,420 846,480 841,560 L831,610 L800,642 L780,616 C740,662 680,682 620,672 L586,692 L586,822 L545,802 C450,752 320,682 240,622 C190,582 180,520 190,480 L154,492 L185,440 L168,425 L205,395 L183,386 C210,350 250,320 280,300 L264,210 C275,150 290,110 305,75 Z" fill="#0d0d0d" stroke="#0d0d0d" stroke-width="6" stroke-linejoin="round"/><path d="M318,128 C390,192 500,256 610,296 C680,316 720,350 730,400 L690,420 L640,380 L545,332 L502,322 C540,350 542,362 546,380 C510,390 490,420 500,460 C510,490 530,500 540,512 L520,560 L478,570 L520,590 L488,612 L530,632 L520,700 L510,746 C420,700 320,640 260,590 C220,556 215,510 226,470 L200,466 L222,440 L215,420 L240,400 C250,370 290,340 322,332 L300,290 L322,270 L290,220 C295,180 305,150 318,128 Z" fill="#ec2d24"/><path d="M600,510 C640,440 720,416 780,440 C822,470 832,540 816,592 L800,620 L780,600 C740,650 680,666 630,650 C580,630 560,570 600,510 Z" fill="#fdb913"/><ellipse cx="716" cy="580" rx="66" ry="36" fill="#111" transform="rotate(-6 716 580)"/><ellipse cx="714" cy="578" rx="54" ry="24" fill="#fff" transform="rotate(-6 714 578)"/><path d="M660,582 L775,572 M690,556 V604 M716,554 V604 M742,556 V600" stroke="#111" stroke-width="6"/><circle cx="582" cy="424" r="52" fill="#fff"/><circle cx="606" cy="404" r="38" fill="#0d0d0d"/><path d="M520,330 L660,400 L650,430 L560,380 Z" fill="#0d0d0d"/></g>
</svg>
<div class="t" style="left:11.28px;top:25.10px;font-size:36.13px;font-weight:400;font-style:normal;color:#262626;transform:scaleX(0.9610);-webkit-text-stroke:0.34px #fff">Top 15 WR's in 2024 Class</div>
<div class="t" style="left:11.52px;top:80.90px;font-size:24.43px;font-weight:400;font-style:normal;color:#262626;transform:scaleX(0.9620);-webkit-text-stroke:0.23px #fff">WRs in 2021 season | 1 year out of high school | Sorted by RYPTPA</div>
<div class="t" style="left:230.40px;top:133.60px;font-size:23.15px;font-weight:400;font-style:normal;color:#262626;transform:scaleX(0.9125);-webkit-text-stroke:0.22px #fff">PLAYER INFO</div>
<div class="t" style="left:749.52px;top:133.60px;font-size:23.15px;font-weight:400;font-style:normal;color:#262626;transform:scaleX(0.9027);-webkit-text-stroke:0.22px #fff">METRICS</div>
<div class="t" style="left:18.47px;top:188.90px;font-size:23.15px;font-weight:400;font-style:normal;color:#262626;transform:scaleX(0.8765);-webkit-text-stroke:0.22px #fff">PLAYER</div>
<div class="t" style="left:283.63px;top:188.90px;font-size:23.15px;font-weight:400;font-style:normal;color:#262626;transform:scaleX(0.9435);-webkit-text-stroke:0.22px #fff">TEAM</div>
<div class="t" style="left:606.90px;top:188.90px;font-size:23.15px;font-weight:400;font-style:normal;color:#262626;transform:scaleX(0.8543);-webkit-text-stroke:0.22px #fff">REC</div>
<div class="t" style="left:666.55px;top:188.90px;font-size:23.15px;font-weight:400;font-style:normal;color:#262626;transform:scaleX(0.8873);-webkit-text-stroke:0.22px #fff">PPR PTS</div>
<div class="t" style="left:773.13px;top:188.90px;font-size:23.15px;font-weight:400;font-style:normal;color:#262626;transform:scaleX(0.9493);-webkit-text-stroke:0.22px #fff">WDR (%)</div>
<div class="t" style="left:891.88px;top:188.90px;font-size:23.15px;font-weight:400;font-style:normal;color:#262626;transform:scaleX(0.8680);-webkit-text-stroke:0.22px #fff">RYPTPA</div>
<div class="t" style="left:867.02px;top:187.60px;font-size:13.73px;font-weight:400;font-style:italic;color:#262626;transform:scaleX(1.1652);-webkit-text-stroke:0.13px #fff">1</div>
<div class="t" style="left:971.90px;top:187.60px;font-size:13.73px;font-weight:400;font-style:italic;color:#262626;transform:scaleX(1.0000);-webkit-text-stroke:0.13px #fff">2</div>
<div class="t" style="left:18.90px;top:242.50px;font-size:26.65px;font-weight:700;font-style:normal;color:#2b2b2b;transform:scaleX(0.9369)">X<span class="sc">AVIER</span> W<span class="sc">ORTHY</span></div>
<div class="t" style="left:362.16px;top:253.80px;font-size:30.14px;font-weight:400;font-style:normal;color:#1c1c1c;transform:scaleX(0.8560);-webkit-text-stroke:0.28px #fff">Texas</div>
<div class="t" style="left:617.27px;top:253.80px;font-size:30.14px;font-weight:400;font-style:normal;color:#1c1c1c;transform:scaleX(0.9516);-webkit-text-stroke:0.28px #fff">34</div>
<div class="t" style="left:707.21px;top:253.80px;font-size:30.14px;font-weight:400;font-style:normal;color:#1c1c1c;transform:scaleX(0.9516);-webkit-text-stroke:0.28px #7FBF7B">142</div>
<div class="t" style="left:823.57px;top:242.40px;font-size:26.42px;font-weight:700;font-style:normal;color:#000;transform:scaleX(0.9737)">36.2</div>
<div class="t" style="left:852.11px;top:269.50px;font-size:18.5px;font-weight:700;font-style:normal;color:#848484;transform:scaleX(1.0545)">99</div>
<div class="t" style="left:929.33px;top:242.40px;font-size:26.42px;font-weight:700;font-style:normal;color:#000;transform:scaleX(0.9737)">3.15</div>
<div class="t" style="left:947.56px;top:269.50px;font-size:18.5px;font-weight:700;font-style:normal;color:#848484;transform:scaleX(1.0545)">100</div>
<div class="t" style="left:18.96px;top:318.21px;font-size:26.65px;font-weight:700;font-style:normal;color:#2b2b2b;transform:scaleX(0.8545)">J<span class="sc">ACK</span> B<span class="sc">ECH</span></div>
<div class="t" style="left:362.20px;top:329.51px;font-size:30.14px;font-weight:400;font-style:normal;color:#1c1c1c;transform:scaleX(0.8461);-webkit-text-stroke:0.28px #fff">LSU</div>
<div class="t" style="left:617.51px;top:329.51px;font-size:30.14px;font-weight:400;font-style:normal;color:#1c1c1c;transform:scaleX(0.9516);-webkit-text-stroke:0.28px #fff">28</div>
<div class="t" style="left:723.15px;top:329.51px;font-size:30.14px;font-weight:400;font-style:normal;color:#1c1c1c;transform:scaleX(0.9516);-webkit-text-stroke:0.28px #EFE5EF">67</div>
<div class="t" style="left:823.33px;top:318.11px;font-size:26.42px;font-weight:700;font-style:normal;color:#000;transform:scaleX(0.9737)">13.3</div>
<div class="t" style="left:852.37px;top:345.21px;font-size:18.5px;font-weight:700;font-style:normal;color:#848484;transform:scaleX(1.0545)">47</div>
<div class="t" style="left:929.33px;top:318.11px;font-size:26.42px;font-weight:700;font-style:normal;color:#000;transform:scaleX(0.9737)">1.15</div>
<div class="t" style="left:958.11px;top:345.21px;font-size:18.5px;font-weight:700;font-style:normal;color:#848484;transform:scaleX(1.0545)">56</div>
<div class="t" style="left:18.65px;top:393.92px;font-size:26.65px;font-weight:700;font-style:normal;color:#2b2b2b;transform:scaleX(0.9538)">A<span class="sc">DONAI</span> M<span class="sc">ITCHELL</span></div>
<div class="t" style="left:361.69px;top:405.22px;font-size:30.14px;font-weight:400;font-style:normal;color:#1c1c1c;transform:scaleX(0.9371);-webkit-text-stroke:0.28px #fff">Georgia</div>
<div class="t" style="left:617.27px;top:405.22px;font-size:30.14px;font-weight:400;font-style:normal;color:#1c1c1c;transform:scaleX(0.9516);-webkit-text-stroke:0.28px #fff">14</div>
<div class="t" style="left:723.15px;top:405.22px;font-size:30.14px;font-weight:400;font-style:normal;color:#1c1c1c;transform:scaleX(0.9516);-webkit-text-stroke:0.28px #DCC6E1">47</div>
<div class="t" style="left:824.06px;top:393.82px;font-size:26.42px;font-weight:700;font-style:normal;color:#000;transform:scaleX(0.9737)">11.4</div>
<div class="t" style="left:852.11px;top:420.92px;font-size:18.5px;font-weight:700;font-style:normal;color:#848484;transform:scaleX(1.0545)">41</div>
<div class="t" style="left:929.33px;top:393.82px;font-size:26.42px;font-weight:700;font-style:normal;color:#000;transform:scaleX(0.9737)">1.13</div>
<div class="t" style="left:958.11px;top:420.92px;font-size:18.5px;font-weight:700;font-style:normal;color:#848484;transform:scaleX(1.0545)">55</div>
<div class="t" style="left:17.89px;top:469.63px;font-size:26.65px;font-weight:700;font-style:normal;color:#2b2b2b;transform:scaleX(0.9758)">M<span class="sc">ARIO</span> W<span class="sc">ILLIAMS</span></div>
<div class="t" style="left:361.66px;top:480.93px;font-size:30.14px;font-weight:400;font-style:normal;color:#1c1c1c;transform:scaleX(0.9569);-webkit-text-stroke:0.28px #fff">Oklahoma</div>
<div class="t" style="left:617.75px;top:480.93px;font-size:30.14px;font-weight:400;font-style:normal;color:#1c1c1c;transform:scaleX(0.9516);-webkit-text-stroke:0.28px #fff">29</div>
<div class="t" style="left:723.15px;top:480.93px;font-size:30.14px;font-weight:400;font-style:normal;color:#1c1c1c;transform:scaleX(0.9516);-webkit-text-stroke:0.28px #F5F3F5">79</div>
<div class="t" style="left:823.57px;top:469.53px;font-size:26.42px;font-weight:700;font-style:normal;color:#000;transform:scaleX(0.9737)">12.0</div>
<div class="t" style="left:852.11px;top:496.63px;font-size:18.5px;font-weight:700;font-style:normal;color:#848484;transform:scaleX(1.0545)">42</div>
<div class="t" style="left:929.33px;top:469.53px;font-size:26.42px;font-weight:700;font-style:normal;color:#000;transform:scaleX(0.9737)">1.09</div>
<div class="t" style="left:958.11px;top:496.63px;font-size:18.5px;font-weight:700;font-style:normal;color:#848484;transform:scaleX(1.0545)">51</div>
<div class="t" style="left:17.94px;top:545.34px;font-size:26.65px;font-weight:700;font-style:normal;color:#2b2b2b;transform:scaleX(0.9478)">D<span class="sc">E</span>'Z<span class="sc">HAUN</span> S<span class="sc">TRIBLING</span></div>
<div class="t" style="left:362.32px;top:556.64px;font-size:30.14px;font-weight:400;font-style:normal;color:#1c1c1c;transform:scaleX(0.9589);-webkit-text-stroke:0.28px #fff">Washington State</div>
<div class="t" style="left:617.75px;top:556.64px;font-size:30.14px;font-weight:400;font-style:normal;color:#1c1c1c;transform:scaleX(0.9516);-webkit-text-stroke:0.28px #fff">27</div>
<div class="t" style="left:722.91px;top:556.64px;font-size:30.14px;font-weight:400;font-style:normal;color:#1c1c1c;transform:scaleX(0.9516);-webkit-text-stroke:0.28px #F5F2F5">78</div>
<div class="t" style="left:823.33px;top:545.24px;font-size:26.42px;font-weight:700;font-style:normal;color:#000;transform:scaleX(0.9737)">14.8</div>
<div class="t" style="left:852.11px;top:572.34px;font-size:18.5px;font-weight:700;font-style:normal;color:#848484;transform:scaleX(1.0545)">52</div>
<div class="t" style="left:929.33px;top:545.24px;font-size:26.42px;font-weight:700;font-style:normal;color:#000;transform:scaleX(0.9737)">1.03</div>
<div class="t" style="left:958.11px;top:572.34px;font-size:18.5px;font-weight:700;font-style:normal;color:#848484;transform:scaleX(1.0545)">48</div>
<div class="t" style="left:17.96px;top:621.05px;font-size:26.65px;font-weight:700;font-style:normal;color:#2b2b2b;transform:scaleX(0.9358)">K<span class="sc">EAGAN</span> J<span class="sc">OHNSON</span></div>
<div class="t" style="left:361.47px;top:632.35px;font-size:30.14px;font-weight:400;font-style:normal;color:#1c1c1c;transform:scaleX(0.9547);-webkit-text-stroke:0.28px #fff">Iowa</div>
<div class="t" style="left:633.45px;top:632.35px;font-size:30.14px;font-weight:400;font-style:normal;color:#1c1c1c;transform:scaleX(0.9516);-webkit-text-stroke:0.28px #fff">8</div>
<div class="t" style="left:723.15px;top:632.35px;font-size:30.14px;font-weight:400;font-style:normal;color:#1c1c1c;transform:scaleX(0.9516);-webkit-text-stroke:0.28px #C9AED4">37</div>
<div class="t" style="left:823.57px;top:620.95px;font-size:26.42px;font-weight:700;font-style:normal;color:#000;transform:scaleX(0.9737)">13.7</div>
<div class="t" style="left:852.11px;top:648.05px;font-size:18.5px;font-weight:700;font-style:normal;color:#848484;transform:scaleX(1.0545)">48</div>
<div class="t" style="left:929.08px;top:620.95px;font-size:26.42px;font-weight:700;font-style:normal;color:#000;transform:scaleX(0.9737)">0.91</div>
<div class="t" style="left:958.11px;top:648.05px;font-size:18.5px;font-weight:700;font-style:normal;color:#848484;transform:scaleX(1.0545)">45</div>
<div class="t" style="left:18.00px;top:696.76px;font-size:26.65px;font-weight:700;font-style:normal;color:#2b2b2b;transform:scaleX(0.9146)">L<span class="sc">UKE</span> W<span class="sc">YSONG</span></div>
<div class="t" style="left:361.89px;top:708.06px;font-size:30.14px;font-weight:400;font-style:normal;color:#1c1c1c;transform:scaleX(0.9832);-webkit-text-stroke:0.28px #fff">New Mexico</div>
<div class="t" style="left:617.51px;top:708.06px;font-size:30.14px;font-weight:400;font-style:normal;color:#1c1c1c;transform:scaleX(0.9516);-webkit-text-stroke:0.28px #fff">20</div>
<div class="t" style="left:722.91px;top:708.06px;font-size:30.14px;font-weight:400;font-style:normal;color:#1c1c1c;transform:scaleX(0.9516);-webkit-text-stroke:0.28px #D8C1DE">45</div>
<div class="t" style="left:823.33px;top:696.66px;font-size:26.42px;font-weight:700;font-style:normal;color:#000;transform:scaleX(0.9737)">12.6</div>
<div class="t" style="left:851.58px;top:723.76px;font-size:18.5px;font-weight:700;font-style:normal;color:#848484;transform:scaleX(1.0545)">44</div>
<div class="t" style="left:929.33px;top:696.66px;font-size:26.42px;font-weight:700;font-style:normal;color:#000;transform:scaleX(0.9737)">0.88</div>
<div class="t" style="left:958.11px;top:723.76px;font-size:18.5px;font-weight:700;font-style:normal;color:#848484;transform:scaleX(1.0545)">43</div>
<div class="t" style="left:17.96px;top:772.47px;font-size:26.65px;font-weight:700;font-style:normal;color:#2b2b2b;transform:scaleX(0.9397)">B<span class="sc">RIAN</span> T<span class="sc">HOMAS</span> J<span class="sc">R</span>.</div>
<div class="t" style="left:362.20px;top:783.77px;font-size:30.14px;font-weight:400;font-style:normal;color:#1c1c1c;transform:scaleX(0.8461);-webkit-text-stroke:0.28px #fff">LSU</div>
<div class="t" style="left:617.51px;top:783.77px;font-size:30.14px;font-weight:400;font-style:normal;color:#1c1c1c;transform:scaleX(0.9516);-webkit-text-stroke:0.28px #fff">18</div>
<div class="t" style="left:722.91px;top:783.77px;font-size:30.14px;font-weight:400;font-style:normal;color:#1c1c1c;transform:scaleX(0.9516);-webkit-text-stroke:0.28px #D5BCDC">43</div>
<div class="t" style="left:837.69px;top:772.37px;font-size:26.42px;font-weight:700;font-style:normal;color:#000;transform:scaleX(0.9737)">9.2</div>
<div class="t" style="left:852.11px;top:799.47px;font-size:18.5px;font-weight:700;font-style:normal;color:#848484;transform:scaleX(1.0545)">32</div>
<div class="t" style="left:929.33px;top:772.37px;font-size:26.42px;font-weight:700;font-style:normal;color:#000;transform:scaleX(0.9737)">0.86</div>
<div class="t" style="left:958.11px;top:799.47px;font-size:18.5px;font-weight:700;font-style:normal;color:#848484;transform:scaleX(1.0545)">42</div>
<div class="t" style="left:18.89px;top:848.18px;font-size:26.65px;font-weight:700;font-style:normal;color:#2b2b2b;transform:scaleX(0.9509)">J<span class="sc">IMMY</span> H<span class="sc">ORN</span> J<span class="sc">R</span>.</div>
<div class="t" style="left:361.42px;top:859.48px;font-size:30.14px;font-weight:400;font-style:normal;color:#1c1c1c;transform:scaleX(0.9594);-webkit-text-stroke:0.28px #fff">South Florida</div>
<div class="t" style="left:617.75px;top:859.48px;font-size:30.14px;font-weight:400;font-style:normal;color:#1c1c1c;transform:scaleX(0.9516);-webkit-text-stroke:0.28px #fff">17</div>
<div class="t" style="left:722.67px;top:859.48px;font-size:30.14px;font-weight:400;font-style:normal;color:#1c1c1c;transform:scaleX(0.9516);-webkit-text-stroke:0.28px #C4A7D1">34</div>
<div class="t" style="left:823.33px;top:848.08px;font-size:26.42px;font-weight:700;font-style:normal;color:#000;transform:scaleX(0.9737)">10.6</div>
<div class="t" style="left:852.11px;top:875.18px;font-size:18.5px;font-weight:700;font-style:normal;color:#848484;transform:scaleX(1.0545)">36</div>
<div class="t" style="left:929.33px;top:848.08px;font-size:26.42px;font-weight:700;font-style:normal;color:#000;transform:scaleX(0.9737)">0.86</div>
<div class="t" style="left:958.11px;top:875.18px;font-size:18.5px;font-weight:700;font-style:normal;color:#848484;transform:scaleX(1.0545)">42</div>
<div class="t" style="left:18.01px;top:923.89px;font-size:26.65px;font-weight:700;font-style:normal;color:#2b2b2b;transform:scaleX(0.9062)">D<span class="sc">ERWIN</span> B<span class="sc">URGESS</span> J<span class="sc">R</span>.</div>
<div class="t" style="left:361.66px;top:935.19px;font-size:30.14px;font-weight:400;font-style:normal;color:#1c1c1c;transform:scaleX(0.9586);-webkit-text-stroke:0.28px #fff">Georgia Southern</div>
<div class="t" style="left:633.45px;top:935.19px;font-size:30.14px;font-weight:400;font-style:normal;color:#1c1c1c;transform:scaleX(0.9516);-webkit-text-stroke:0.28px #fff">8</div>
<div class="t" style="left:722.91px;top:935.19px;font-size:30.14px;font-weight:400;font-style:normal;color:#1c1c1c;transform:scaleX(0.9516);-webkit-text-stroke:0.28px #AF8DC3">23</div>
<div class="t" style="left:823.33px;top:923.79px;font-size:26.42px;font-weight:700;font-style:normal;color:#000;transform:scaleX(0.9737)">10.3</div>
<div class="t" style="left:851.58px;top:950.89px;font-size:18.5px;font-weight:700;font-style:normal;color:#848484;transform:scaleX(1.0545)">34</div>
<div class="t" style="left:929.33px;top:923.79px;font-size:26.42px;font-weight:700;font-style:normal;color:#000;transform:scaleX(0.9737)">0.79</div>
<div class="t" style="left:958.11px;top:950.89px;font-size:18.5px;font-weight:700;font-style:normal;color:#848484;transform:scaleX(1.0545)">39</div>
<div class="t" style="left:18.92px;top:999.60px;font-size:26.65px;font-weight:700;font-style:normal;color:#2b2b2b;transform:scaleX(0.9048)">J<span class="sc">AMARI</span> G<span class="sc">ASSETT</span></div>
<div class="t" style="left:361.91px;top:1010.90px;font-size:30.14px;font-weight:400;font-style:normal;color:#1c1c1c;transform:scaleX(0.9716);-webkit-text-stroke:0.28px #fff">Buffalo</div>
<div class="t" style="left:617.51px;top:1010.90px;font-size:30.14px;font-weight:400;font-style:normal;color:#1c1c1c;transform:scaleX(0.9516);-webkit-text-stroke:0.28px #fff">13</div>
<div class="t" style="left:723.15px;top:1010.90px;font-size:30.14px;font-weight:400;font-style:normal;color:#1c1c1c;transform:scaleX(0.9516);-webkit-text-stroke:0.28px #D1B7D9">41</div>
<div class="t" style="left:823.33px;top:999.50px;font-size:26.42px;font-weight:700;font-style:normal;color:#000;transform:scaleX(0.9737)">10.8</div>
<div class="t" style="left:852.37px;top:1026.60px;font-size:18.5px;font-weight:700;font-style:normal;color:#848484;transform:scaleX(1.0545)">37</div>
<div class="t" style="left:929.33px;top:999.50px;font-size:26.42px;font-weight:700;font-style:normal;color:#000;transform:scaleX(0.9737)">0.75</div>
<div class="t" style="left:958.37px;top:1026.60px;font-size:18.5px;font-weight:700;font-style:normal;color:#848484;transform:scaleX(1.0545)">37</div>
<div class="t" style="left:18.65px;top:1075.31px;font-size:26.65px;font-weight:700;font-style:normal;color:#2b2b2b;transform:scaleX(0.9481)">A<span class="sc">NDREL</span> A<span class="sc">NTHONY</span> J<span class="sc">R</span>.</div>
<div class="t" style="left:361.85px;top:1086.61px;font-size:30.14px;font-weight:400;font-style:normal;color:#1c1c1c;transform:scaleX(1.0017);-webkit-text-stroke:0.28px #fff">Michigan</div>
<div class="t" style="left:633.45px;top:1086.61px;font-size:30.14px;font-weight:400;font-style:normal;color:#1c1c1c;transform:scaleX(0.9516);-webkit-text-stroke:0.28px #fff">6</div>
<div class="t" style="left:722.67px;top:1086.61px;font-size:30.14px;font-weight:400;font-style:normal;color:#1c1c1c;transform:scaleX(0.9516);-webkit-text-stroke:0.28px #C4A7D1">34</div>
<div class="t" style="left:824.54px;top:1075.21px;font-size:26.42px;font-weight:700;font-style:normal;color:#000;transform:scaleX(0.9737)">11.1</div>
<div class="t" style="left:852.11px;top:1102.31px;font-size:18.5px;font-weight:700;font-style:normal;color:#848484;transform:scaleX(1.0545)">39</div>
<div class="t" style="left:929.57px;top:1075.21px;font-size:26.42px;font-weight:700;font-style:normal;color:#000;transform:scaleX(0.9737)">0.72</div>
<div class="t" style="left:958.37px;top:1102.31px;font-size:18.5px;font-weight:700;font-style:normal;color:#848484;transform:scaleX(1.0545)">37</div>
<div class="t" style="left:18.67px;top:1151.02px;font-size:26.65px;font-weight:700;font-style:normal;color:#2b2b2b;transform:scaleX(0.9313)">S<span class="sc">HAE</span> W<span class="sc">YATT</span></div>
<div class="t" style="left:362.12px;top:1162.32px;font-size:30.14px;font-weight:400;font-style:normal;color:#1c1c1c;transform:scaleX(0.9070);-webkit-text-stroke:0.28px #fff">Tulane</div>
<div class="t" style="left:617.75px;top:1162.32px;font-size:30.14px;font-weight:400;font-style:normal;color:#1c1c1c;transform:scaleX(0.9516);-webkit-text-stroke:0.28px #fff">17</div>
<div class="t" style="left:722.91px;top:1162.32px;font-size:30.14px;font-weight:400;font-style:normal;color:#1c1c1c;transform:scaleX(0.9516);-webkit-text-stroke:0.28px #E7D4E8">53</div>
<div class="t" style="left:824.79px;top:1150.92px;font-size:26.42px;font-weight:700;font-style:normal;color:#000;transform:scaleX(0.9737)">11.2</div>
<div class="t" style="left:852.37px;top:1178.02px;font-size:18.5px;font-weight:700;font-style:normal;color:#848484;transform:scaleX(1.0545)">40</div>
<div class="t" style="left:929.08px;top:1150.92px;font-size:26.42px;font-weight:700;font-style:normal;color:#000;transform:scaleX(0.9737)">0.71</div>
<div class="t" style="left:958.11px;top:1178.02px;font-size:18.5px;font-weight:700;font-style:normal;color:#848484;transform:scaleX(1.0545)">36</div>
<div class="t" style="left:17.92px;top:1226.73px;font-size:26.65px;font-weight:700;font-style:normal;color:#2b2b2b;transform:scaleX(0.9600)">M<span class="sc">ALIK</span> M<span class="sc">C</span>C<span class="sc">LAIN</span></div>
<div class="t" style="left:361.97px;top:1238.03px;font-size:30.14px;font-weight:400;font-style:normal;color:#1c1c1c;transform:scaleX(0.9471);-webkit-text-stroke:0.28px #fff">Florida State</div>
<div class="t" style="left:617.51px;top:1238.03px;font-size:30.14px;font-weight:400;font-style:normal;color:#1c1c1c;transform:scaleX(0.9516);-webkit-text-stroke:0.28px #fff">10</div>
<div class="t" style="left:722.91px;top:1238.03px;font-size:30.14px;font-weight:400;font-style:normal;color:#1c1c1c;transform:scaleX(0.9516);-webkit-text-stroke:0.28px #BC9DCC">30</div>
<div class="t" style="left:837.69px;top:1226.63px;font-size:26.42px;font-weight:700;font-style:normal;color:#000;transform:scaleX(0.9737)">8.8</div>
<div class="t" style="left:852.11px;top:1253.73px;font-size:18.5px;font-weight:700;font-style:normal;color:#848484;transform:scaleX(1.0545)">31</div>
<div class="t" style="left:929.33px;top:1226.63px;font-size:26.42px;font-weight:700;font-style:normal;color:#000;transform:scaleX(0.9737)">0.69</div>
<div class="t" style="left:957.58px;top:1253.73px;font-size:18.5px;font-weight:700;font-style:normal;color:#848484;transform:scaleX(1.0545)">34</div>
<div class="t" style="left:18.66px;top:1302.44px;font-size:26.65px;font-weight:700;font-style:normal;color:#2b2b2b;transform:scaleX(0.9428)">A<span class="sc">HMARI</span> H<span class="sc">UGGINS</span>-B<span class="sc">RUCE</span></div>
<div class="t" style="left:361.93px;top:1313.74px;font-size:30.14px;font-weight:400;font-style:normal;color:#1c1c1c;transform:scaleX(0.9630);-webkit-text-stroke:0.28px #fff">Louisville</div>
<div class="t" style="left:617.51px;top:1313.74px;font-size:30.14px;font-weight:400;font-style:normal;color:#1c1c1c;transform:scaleX(0.9516);-webkit-text-stroke:0.28px #fff">13</div>
<div class="t" style="left:723.15px;top:1313.74px;font-size:30.14px;font-weight:400;font-style:normal;color:#1c1c1c;transform:scaleX(0.9516);-webkit-text-stroke:0.28px #C9AED4">37</div>
<div class="t" style="left:837.69px;top:1302.34px;font-size:26.42px;font-weight:700;font-style:normal;color:#000;transform:scaleX(0.9737)">9.2</div>
<div class="t" style="left:852.11px;top:1329.44px;font-size:18.5px;font-weight:700;font-style:normal;color:#848484;transform:scaleX(1.0545)">32</div>
<div class="t" style="left:929.33px;top:1302.34px;font-size:26.42px;font-weight:700;font-style:normal;color:#000;transform:scaleX(0.9737)">0.68</div>
<div class="t" style="left:957.58px;top:1329.44px;font-size:18.5px;font-weight:700;font-style:normal;color:#848484;transform:scaleX(1.0545)">34</div>
<div class="t" style="left:20.46px;top:1381.60px;font-size:13.44px;font-weight:400;font-style:italic;color:#262626;transform:scaleX(0.8870);-webkit-text-stroke:0.13px #fff">1</div>
<div class="t" style="left:30.24px;top:1384.60px;font-size:20.95px;font-weight:400;font-style:normal;color:#262626;transform:scaleX(1.0552);-webkit-text-stroke:0.20px #fff">Weighted Dominator Rating - Share of team receiving production (80% yds/20% tds)</div>
<div class="t" style="left:19.00px;top:1426.00px;font-size:13.44px;font-weight:400;font-style:italic;color:#262626;transform:scaleX(0.9379);-webkit-text-stroke:0.13px #fff">2</div>
<div class="t" style="left:29.00px;top:1428.40px;font-size:20.95px;font-weight:400;font-style:normal;color:#262626;transform:scaleX(1.0013);-webkit-text-stroke:0.20px #fff">Rec Yards per Team Pass Attempt</div>
<div class="t" style="left:16.47px;top:1473.50px;font-size:20.95px;font-weight:700;font-style:italic;color:#262626;transform:scaleX(1.0512)">Note:</div>
<div class="t" style="left:78.14px;top:1473.50px;font-size:20.95px;font-weight:400;font-style:normal;color:#262626;transform:scaleX(1.0404);-webkit-text-stroke:0.20px #fff">Percentile, in grey below value, is based on historical values from 2014-2020</div>
<div class="t" style="left:16.75px;top:1517.30px;font-size:20.95px;font-weight:700;font-style:normal;color:#262626;transform:scaleX(1.0155)">Table:</div>
<div class="t" style="left:82.11px;top:1517.30px;font-size:20.95px;font-weight:400;font-style:normal;color:#262626;transform:scaleX(1.0203);-webkit-text-stroke:0.20px #fff">@JerrickBackous / @campus2canton</div>
<div class="t" style="left:15.64px;top:1561.40px;font-size:20.95px;font-weight:700;font-style:normal;color:#262626;transform:scaleX(1.0883)">Data:</div>
<div class="t" style="left:77.15px;top:1561.40px;font-size:20.95px;font-weight:400;font-style:normal;color:#262626;transform:scaleX(1.0017);-webkit-text-stroke:0.20px #fff">@CFB_Data with @cfbfastR</div>
</body></html>
